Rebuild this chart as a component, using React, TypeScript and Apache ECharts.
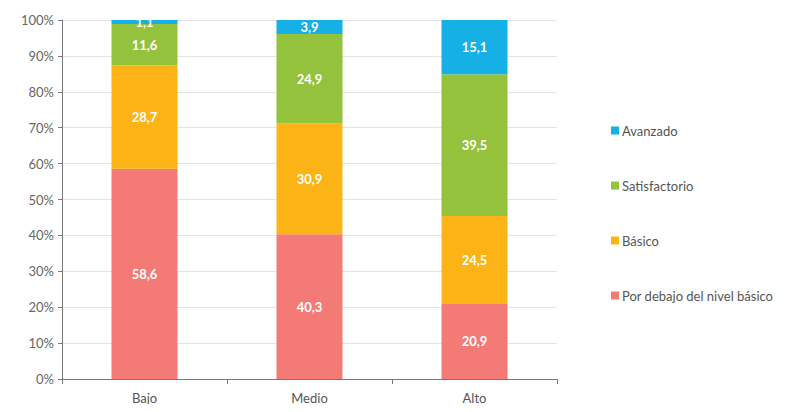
import React, { useEffect, useRef } from "react";
import * as echarts from "echarts";

const categories = ["Bajo", "Medio", "Alto"];
const porDebajo = [58.6, 40.3, 20.9];
const basico = [28.7, 30.9, 24.5];
const satisfactorio = [11.6, 24.9, 39.5];
const avanzado = [1.1, 3.9, 15.1];
const legendOrder = ["Avanzado", "Satisfactorio", "Básico", "Por debajo del nivel básico"];

const fmt = (v: number) => v.toFixed(1).replace(".", ",");

export default function App() {
  const ref = useRef<HTMLDivElement>(null);
  useEffect(() => {
    const chart = echarts.init(ref.current!, null, { renderer: "svg" });
    const font = "Lato, 'Open Sans', sans-serif";
    const mk = (name: string, data: number[], color: string) => ({
      name,
      type: "bar",
      stack: "total",
      data,
      barWidth: 66,
      itemStyle: { color },
      label: {
        show: true,
        position: "inside",
        color: "#fff",
        fontFamily: font,
        fontSize: 13,
        fontWeight: "bold",
        formatter: (p: any) => fmt(p.value),
      },
    });
    chart.setOption({
      animation: false,
      textStyle: { fontFamily: font },
      grid: { left: 54, right: 231, top: 12, bottom: 25, containLabel: false },
      legend: {
        orient: "vertical",
        left: 598,
        top: 111,
        itemWidth: 8,
        itemHeight: 8,
        itemGap: 42,
        icon: "rect",
        data: legendOrder,
        textStyle: { color: "#555", fontSize: 13, fontFamily: font, padding: [0, 0, 0, -2] },
      },
      xAxis: {
        type: "category",
        data: categories,
        axisLine: { lineStyle: { color: "#777" } },
        axisTick: { show: true, length: 5, lineStyle: { color: "#777" } },
        axisLabel: { color: "#555", fontSize: 13, margin: 12 },
      },
      yAxis: {
        type: "value",
        min: 0,
        max: 100,
        interval: 10,
        axisLine: { show: true, lineStyle: { color: "#777" } },
        axisTick: { show: true, length: 4, lineStyle: { color: "#777" } },
        axisLabel: { color: "#666", fontSize: 13, formatter: "{value}%", margin: 8 },
        splitLine: { lineStyle: { color: "#e4e4e4" } },
      },
      series: [
        mk("Por debajo del nivel básico", porDebajo, "#F47A76"),
        mk("Básico", basico, "#FBB316"),
        mk("Satisfactorio", satisfactorio, "#95C23D"),
        mk("Avanzado", avanzado, "#14B0E6"),
      ],
    });
    return () => chart.dispose();
  }, []);
  return <div ref={ref} style={{ width: 780, height: 396 }} />;
}
